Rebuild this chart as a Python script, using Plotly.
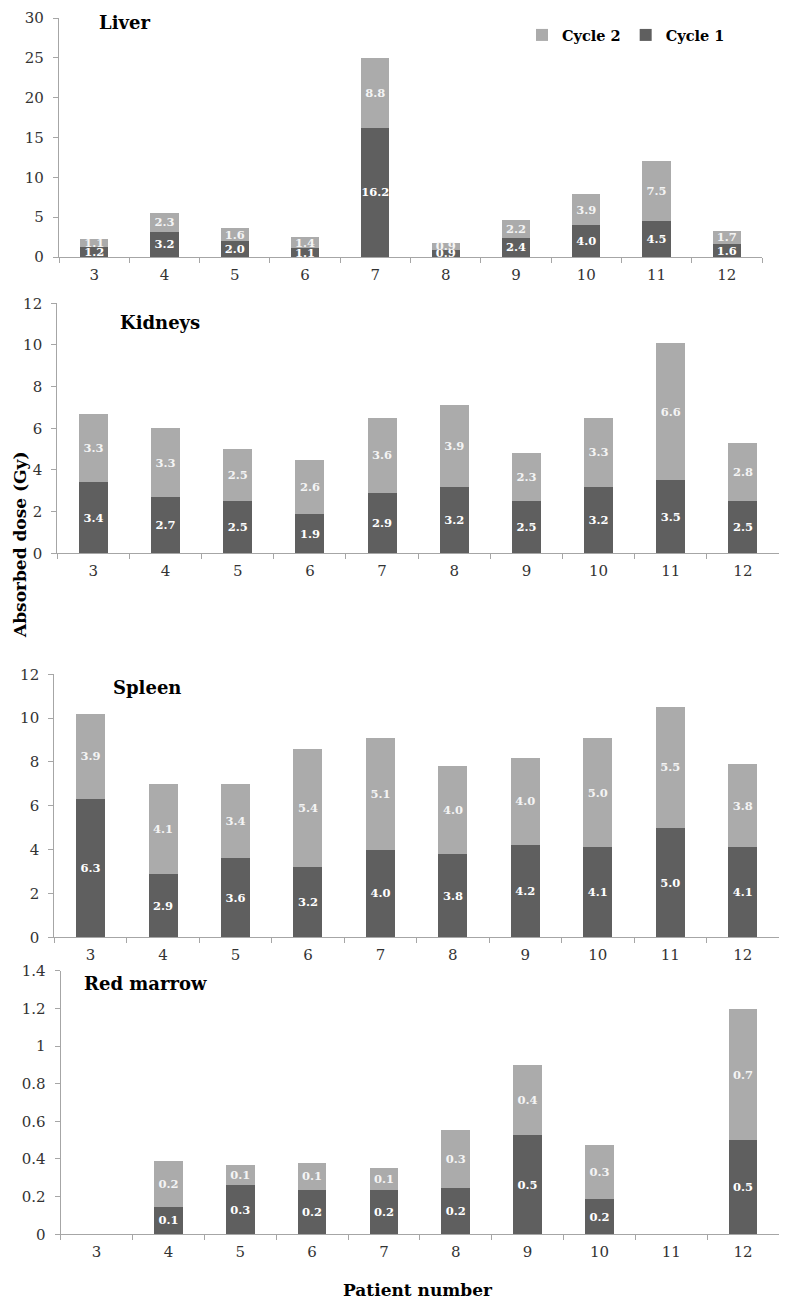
import plotly.graph_objects as go

patients = ["3", "4", "5", "6", "7", "8", "9", "10", "11", "12"]

liver_c1 = [1.2, 3.2, 2.0, 1.1, 16.2, 0.9, 2.4, 4.0, 4.5, 1.6]
liver_c2 = [1.1, 2.3, 1.6, 1.4, 8.8, 0.9, 2.2, 3.9, 7.5, 1.7]

kidney_c1 = [3.4, 2.7, 2.5, 1.9, 2.9, 3.2, 2.5, 3.2, 3.5, 2.5]
kidney_c2 = [3.3, 3.3, 2.5, 2.6, 3.6, 3.9, 2.3, 3.3, 6.6, 2.8]

spleen_c1 = [6.3, 2.9, 3.6, 3.2, 4.0, 3.8, 4.2, 4.1, 5.0, 4.1]
spleen_c2 = [3.9, 4.1, 3.4, 5.4, 5.1, 4.0, 4.0, 5.0, 5.5, 3.8]

marrow_c1 = [None, 0.147, 0.26, 0.235, 0.235, 0.248, 0.526, 0.189, None, 0.499]
marrow_c2 = [None, 0.24, 0.107, 0.145, 0.119, 0.304, 0.371, 0.284, None, 0.695]

panels = [
    ("Liver", liver_c1, liver_c2, [0, 30], 5),
    ("Kidneys", kidney_c1, kidney_c2, [0, 12], 2),
    ("Spleen", spleen_c1, spleen_c2, [0, 12], 2),
    ("Red marrow", marrow_c1, marrow_c2, [0, 1.4], 0.2),
]

# page body has an 8px margin: figure is drawn 8px in from the top-left
OFF = 8
W, H = 787 - 2 * OFF, 1311 - 2 * OFF
# reference pixel geometry: (x_left, x_right, y_top, y_bottom)
geom = [
    (59, 762, 18, 257),
    (57.3, 779, 303.3, 553.3),
    (54.3, 779, 674.3, 937.3),
    (60.7, 779, 970.7, 1234.3),
]
title_pos = [(125, 22), (160, 322), (147, 687), (145, 983)]

def px(x):
    return min(1.0, max(0.0, (x - OFF) / W))

def py(y):
    return min(1.0, max(0.0, 1 - (y - OFF) / H))

DARK = "#5f5f5f"
LIGHT = "#ababab"
AXIS = "#a6a6a6"
FONT = "DejaVu Serif"

fig = go.Figure()
layout = {}
annotations = []
for i, (name, c1, c2, yr, dt) in enumerate(panels):
    n = "" if i == 0 else str(i + 1)
    xa, ya = "x" + n, "y" + n
    fig.add_trace(go.Bar(
        x=patients, y=c1, name="Cycle 1", marker=dict(color=DARK, line=dict(width=0)),
        xaxis=xa, yaxis=ya, width=0.4, showlegend=(i == 0),
        texttemplate="%{y:.1f}", textposition="inside", insidetextanchor="middle",
        textangle=0,
        textfont=dict(color="white", size=11.5, family=FONT, weight="bold"),
        cliponaxis=False,
    ))
    fig.add_trace(go.Bar(
        x=patients, y=c2, name="Cycle 2", marker=dict(color=LIGHT, line=dict(width=0)),
        xaxis=xa, yaxis=ya, width=0.4, showlegend=(i == 0),
        texttemplate="%{y:.1f}", textposition="inside", insidetextanchor="middle",
        textangle=0,
        textfont=dict(color="#f4f4f4", size=11.5, family=FONT, weight="bold"),
        cliponaxis=False,
    ))
    xl, xr, yt, yb = geom[i]
    layout["xaxis" + n] = dict(
        domain=[px(xl), px(xr)], anchor=ya, type="category",
        categoryorder="array", categoryarray=patients,
        showline=True, linecolor=AXIS, linewidth=1.2,
        ticks="outside", tickson="boundaries", ticklen=5, tickcolor=AXIS,
        showgrid=False, zeroline=False, automargin=False,
        tickfont=dict(family=FONT, size=15, color="#333333"),
        ticklabelstandoff=4,
    )
    layout["yaxis" + n] = dict(
        domain=[py(yb), py(yt)], anchor=xa, range=yr, dtick=dt,
        showline=True, linecolor=AXIS, linewidth=1.2,
        ticks="outside", ticklen=5, tickcolor=AXIS,
        showgrid=False, zeroline=False, automargin=False,
        tickfont=dict(family=FONT, size=15, color="#333333"),
        ticklabelstandoff=6, ticklabeloverflow="allow",
    )
    tx, ty = title_pos[i]
    annotations.append(dict(
        text="<b>" + name + "</b>", x=px(tx), y=py(ty), xref="paper", yref="paper",
        xanchor="center", yanchor="middle", showarrow=False,
        font=dict(family=FONT, size=18, color="black"),
    ))

annotations.append(dict(
    text="<b>Absorbed dose (Gy)</b>", x=0, y=py(545), xref="paper", yref="paper",
    xanchor="left", yanchor="middle", showarrow=False, textangle=-90,
    font=dict(family=FONT, size=17, color="black"),
))
annotations.append(dict(
    text="<b>Patient number</b>", x=px(418), y=py(1302), xref="paper", yref="paper",
    xanchor="center", yanchor="bottom", showarrow=False,
    font=dict(family=FONT, size=17, color="black"),
))

fig.update_layout(
    **layout,
    barmode="stack",
    width=W, height=H,
    margin=dict(l=0, r=0, t=0, b=0),
    paper_bgcolor="white", plot_bgcolor="white",
    annotations=annotations,
    uniformtext=dict(minsize=11.5, mode="show"),
    font=dict(family=FONT),
    legend=dict(
        orientation="h", x=px(522), y=py(35), xanchor="left", yanchor="middle",
        font=dict(family=FONT, size=14.5, color="black", weight="bold"),
        itemwidth=30, bgcolor="rgba(0,0,0,0)", traceorder="reversed",
    ),
)

fig.write_html("out.html")
